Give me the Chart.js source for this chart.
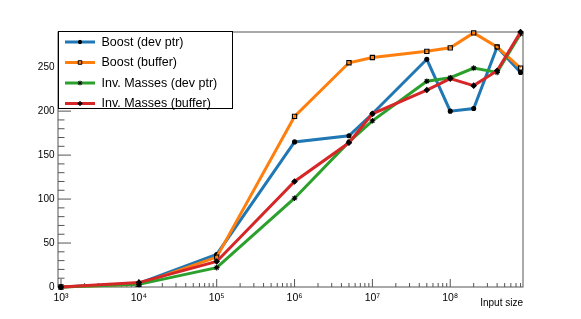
<!DOCTYPE html>
<html><head><meta charset="utf-8">
<script src="https://cdn.jsdelivr.net/npm/chart.js@4/dist/chart.umd.min.js"></script>
<style>html,body{margin:0;padding:0;background:#fff;}canvas{display:block;}</style>
</head><body>
<canvas id="c" width="581" height="319"></canvas>
<script>
const inputSizes    = [1e3, 1e4, 1e5, 1e6, 5e6, 1e7, 5e7, 1e8, 2e8, 4e8, 8e8];
const boostDevPtr   = [0, 4, 37, 165, 172, 197, 259, 200, 203, 273, 244];
const boostBuffer   = [0, 3, 34, 194, 255, 261, 268, 272, 289, 273, 249];
const invMassDevPtr = [0, 3, 22, 101, 165, 189, 234, 238, 249, 244, 288];
const invMassBuffer = [0, 5, 29, 120, 164, 197, 224, 237, 229, 246, 290];
const seriesLabels  = ['Boost (dev ptr)', 'Boost (buffer)', 'Inv. Masses (dev ptr)', 'Inv. Masses (buffer)'];
const seriesColors  = ['#1f77b4', '#ff7f0e', '#2ca02c', '#d62728'];
const xTickValues   = [1e3, 1e4, 1e5, 1e6, 1e7, 1e8];
const xTickLabels   = ['10³', '10⁴', '10⁵', '10⁶', '10⁷', '10⁸'];
const yTickValues   = [0, 50, 100, 150, 200, 250];
const yTickLabels   = ['0', '50', '100', '150', '200', '250'];
const xAxisTitle    = 'Input size';

const FONT = '"Liberation Sans", Arial, Helvetica, sans-serif';
Chart.defaults.font.family = FONT;
Chart.defaults.color = '#000';

const seriesValues = [boostDevPtr, boostBuffer, invMassDevPtr, invMassBuffer];
const pointStyles = ['circle', 'rect', 'star', 'rectRot'];
const pointRadii = [2, 3, 2.8, 2.5];
const pointFills = ['#000', 'rgba(0,0,0,0)', '#000', '#000'];

const datasets = seriesValues.map((vals, i) => ({
  label: seriesLabels[i],
  data: inputSizes.map((x, j) => ({x: x, y: vals[j]})),
  showLine: true,
  borderColor: seriesColors[i],
  backgroundColor: seriesColors[i],
  borderWidth: 3,
  tension: 0,
  pointStyle: pointStyles[i],
  pointRadius: pointRadii[i],
  pointBackgroundColor: pointFills[i],
  pointBorderColor: '#000',
  pointBorderWidth: 1.1,
  order: 3 - i,
  clip: false
}));

function seg(ctx, x1, y1, x2, y2) {
  ctx.beginPath(); ctx.moveTo(x1, y1); ctx.lineTo(x2, y2); ctx.stroke();
}

const rootFrame = {
  id: 'rootFrame',
  beforeDatasetsDraw(chart) {
    const {ctx, chartArea: a, scales: {x, y}} = chart;
    ctx.save();
    ctx.strokeStyle = '#555';
    ctx.lineWidth = 1;
    ctx.strokeRect(a.left, a.top, a.right - a.left, a.bottom - a.top);
    for (let v = 0; v <= y.max + 0.001; v += 10) {
      const py = y.getPixelForValue(v);
      const len = (v % 50 === 0) ? 13 : 6.5;
      seg(ctx, a.left, py, a.left + len, py);
    }
    for (let e = 3; e <= 8; e++) {
      for (let m = 1; m <= 9; m++) {
        const v = m * Math.pow(10, e);
        if (v < x.min || v > x.max) continue;
        const px = x.getPixelForValue(v);
        seg(ctx, px, a.bottom, px, a.bottom - (m === 1 ? 8 : 4));
      }
    }
    ctx.restore();
  },
  afterDatasetsDraw(chart) {
    const {ctx, chartArea: a} = chart;
    ctx.save();
    const bx = a.left, by = a.top - 1, bw = 174, bh = 77;
    ctx.fillStyle = '#fff';
    ctx.fillRect(bx, by, bw, bh);
    ctx.strokeStyle = '#000';
    ctx.lineWidth = 1;
    ctx.strokeRect(bx + 0.5, by + 0.5, bw, bh);
    ctx.font = '12.5px ' + FONT;
    ctx.textBaseline = 'middle';
    ctx.textAlign = 'left';
    chart.data.datasets.forEach((ds, i) => {
      const ry = by + 11 + i * 20.5;
      ctx.strokeStyle = ds.borderColor;
      ctx.lineWidth = 3;
      seg(ctx, bx + 7, ry, bx + 37, ry);
      ctx.fillStyle = ds.pointBackgroundColor;
      ctx.strokeStyle = '#000';
      ctx.lineWidth = 1;
      Chart.helpers.drawPoint(ctx, {pointStyle: ds.pointStyle, radius: ds.pointRadius * 0.85, borderWidth: 1, rotation: 0}, bx + 22, ry);
      ctx.fillStyle = '#000';
      ctx.fillText(ds.label, bx + 43.5, ry + 0.5);
    });
    ctx.restore();
  }
};

new Chart(document.getElementById('c'), {
  type: 'scatter',
  data: {datasets: datasets},
  options: {
    responsive: false,
    animation: false,
    layout: {padding: {left: 0, right: 58, top: 32, bottom: 0}},
    plugins: {legend: {display: false}, tooltip: {enabled: false}},
    scales: {
      x: {
        type: 'logarithmic',
        min: 915, max: 8.6e8,
        grid: {display: false, drawTicks: false},
        border: {display: false},
        afterFit: s => { s.height = 32; },
        afterBuildTicks: s => { s.ticks = xTickValues.map(v => ({value: v})); },
        ticks: {
          autoSkip: false, maxRotation: 0, padding: 5,
          font: {size: 10.5},
          callback: (v) => { const k = xTickValues.indexOf(v); return k >= 0 ? xTickLabels[k] : ''; }
        },
        title: {display: true, text: xAxisTitle, align: 'end', font: {size: 10}, padding: {top: 0, bottom: 9.5}}
      },
      y: {
        type: 'linear',
        min: 0, max: 290,
        grid: {display: false, drawTicks: false},
        border: {display: false},
        afterFit: s => { s.width = 58; },
        afterBuildTicks: s => { s.ticks = yTickValues.map(v => ({value: v})); },
        ticks: {
          padding: 3.5,
          font: {size: 10},
          callback: (v) => { const k = yTickValues.indexOf(v); return k >= 0 ? yTickLabels[k] : ''; }
        }
      }
    }
  },
  plugins: [rootFrame]
});
</script>
</body></html>
